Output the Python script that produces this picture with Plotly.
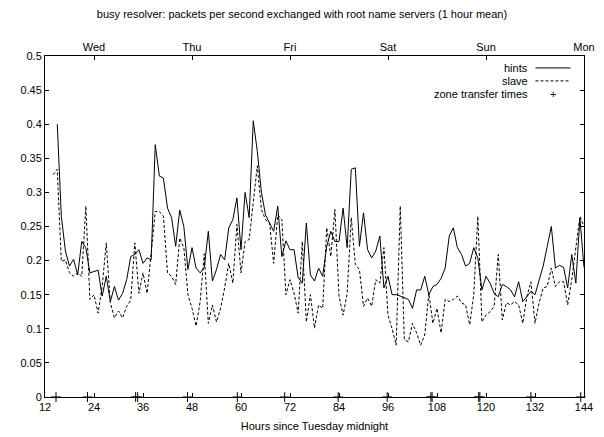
import plotly.graph_objects as go

hours = list(range(14, 145))

hints = [None, 0.400, 0.265, 0.214, 0.192, 0.202, 0.179, 0.228, 0.219, 0.182,
         0.184, 0.186, 0.148, 0.177, 0.140, 0.162, 0.142, 0.152, 0.172, 0.206,
         0.209, 0.216, 0.196, 0.204, 0.201, 0.370, 0.324, 0.321, 0.277, 0.263,
         0.221, 0.274, 0.250, 0.187, 0.219, 0.189, 0.182, 0.190, 0.243, 0.170,
         0.187, 0.209, 0.201, 0.248, 0.260, 0.292, 0.216, 0.300, 0.263, 0.405,
         0.360, 0.300, 0.267, 0.255, 0.243, 0.280, 0.206, 0.229, 0.216, 0.216,
         0.175, 0.167, 0.255, 0.179, 0.170, 0.189, 0.177, 0.221, 0.243, 0.228,
         0.228, 0.277, 0.219, 0.334, 0.336, 0.221, 0.270, 0.216, 0.204, 0.214,
         0.236, 0.160, 0.177, 0.150, 0.150, 0.148, 0.145, 0.143, 0.130, 0.157,
         0.157, 0.177, 0.150, 0.162, 0.165, 0.174, 0.189, 0.236, 0.248, 0.219,
         0.209, 0.192, 0.196, 0.219, 0.204, 0.157, 0.177, 0.167, 0.152, 0.147,
         0.165, 0.162, 0.157, 0.147, 0.169, 0.140, 0.147, 0.155, 0.150, 0.170,
         0.192, 0.221, 0.250, 0.189, 0.193, 0.190, 0.160, 0.209, 0.167, 0.262,
         0.190]

slave = [0.326, 0.334, 0.199, 0.201, 0.182, 0.177, 0.182, 0.177, 0.280, 0.143,
         0.150, 0.123, 0.162, 0.226, 0.138, 0.116, 0.126, 0.116, 0.133, 0.142,
         0.226, 0.152, 0.182, 0.152, 0.211, 0.272, 0.272, 0.265, 0.182, 0.177,
         0.165, 0.233, 0.219, 0.150, 0.130, 0.104, 0.140, 0.210, 0.108, 0.135,
         0.110, 0.130, 0.160, 0.196, 0.167, 0.253, 0.182, 0.228, 0.231, 0.290,
         0.339, 0.275, 0.260, 0.255, 0.196, 0.267, 0.260, 0.150, 0.172, 0.152,
         0.123, 0.228, 0.110, 0.150, 0.101, 0.135, 0.130, 0.248, 0.206, 0.275,
         0.148, 0.120, 0.152, 0.263, 0.194, 0.187, 0.133, 0.145, 0.133, 0.172,
         0.167, 0.219, 0.120, 0.100, 0.076, 0.280, 0.084, 0.081, 0.108, 0.094,
         0.076, 0.091, 0.152, 0.108, 0.130, 0.094, 0.143, 0.140, 0.143, 0.148,
         0.138, 0.135, 0.106, 0.150, 0.265, 0.110, 0.120, 0.125, 0.133, 0.209,
         0.113, 0.138, 0.135, 0.140, 0.135, 0.108, 0.147, 0.169, 0.108, 0.138,
         0.160, 0.162, 0.189, 0.162, 0.169, 0.169, 0.135, 0.172, 0.221, 0.265,
         0.250]

zone_transfer_hours = [14.7, 22.4, 34.2, 34.7, 46.9, 59.1, 70.7, 83.8, 95.8,
                       106.5, 106.8, 118.2, 118.5, 131.0, 143.2]
zone_transfer_vals = [0.0] * len(zone_transfer_hours)

x_ticks = list(range(12, 145, 12))
day_ticks = [24, 48, 72, 96, 120, 144]
day_labels = ["Wed", "Thu", "Fri", "Sat", "Sun", "Mon"]
y_ticks = [round(0.05 * i, 2) for i in range(11)]
y_labels = ["0", "0.05", "0.1", "0.15", "0.2", "0.25", "0.3", "0.35", "0.4", "0.45", "0.5"]

FONT = "Liberation Sans, Arial, sans-serif"

fig = go.Figure()
fig.add_trace(go.Scatter(x=hours, y=hints, mode="lines", name="hints",
                         line=dict(color="black", width=1), connectgaps=False))
fig.add_trace(go.Scatter(x=hours, y=slave, mode="lines", name="slave",
                         line=dict(color="black", width=1, dash="3px,2px")))
fig.add_trace(go.Scatter(x=zone_transfer_hours, y=zone_transfer_vals, mode="markers",
                         name="zone transfer times", cliponaxis=False,
                         marker=dict(symbol="cross-thin", size=7,
                                     line=dict(color="black", width=1))))
# invisible trace to activate top axis
fig.add_trace(go.Scatter(x=[12, 144], y=[None, None], xaxis="x2", showlegend=False,
                         hoverinfo="skip"))

fig.update_layout(
    width=604, height=437,
    margin=dict(l=45, r=20, t=56, b=40),
    paper_bgcolor="white", plot_bgcolor="white",
    showlegend=False,
    font=dict(family=FONT, size=11, color="black"),
    title=dict(text="busy resolver: packets per second exchanged with root name servers (1 hour mean)",
               x=0.5, xanchor="center", y=0.967, yanchor="middle",
               font=dict(size=11, family=FONT)),
    xaxis=dict(range=[12, 144], tickvals=x_ticks, ticks="inside", ticklen=4,
               showgrid=False, zeroline=False, showline=True, linecolor="black",
               linewidth=1, tickcolor="black", automargin=False,
               title=dict(text="Hours since Tuesday midnight", standoff=10,
                          font=dict(size=11))),
    xaxis2=dict(range=[12, 144], overlaying="x", side="top", tickvals=day_ticks,
                ticktext=day_labels, ticks="inside", ticklen=4, showgrid=False,
                zeroline=False, showline=True, linecolor="black", linewidth=1,
                tickcolor="black", automargin=False),
    yaxis=dict(range=[0, 0.5], tickvals=y_ticks, ticktext=y_labels, ticks="inside",
               ticklen=4, showgrid=False, zeroline=False, showline=True,
               linecolor="black", linewidth=1, tickcolor="black", mirror="ticks",
               automargin=False),
)

# legend (text right-aligned, sample to the right, gnuplot style)
legend_items = [("hints", "solid"), ("slave", "3px,2px"), ("zone transfer times", None)]
leg_y0 = 0.965
leg_dy = 0.038
for i, (label, dash) in enumerate(legend_items):
    yy = leg_y0 - i * leg_dy
    fig.add_annotation(xref="paper", yref="paper", x=0.899, y=yy, text=label,
                       showarrow=False, xanchor="right", yanchor="middle",
                       font=dict(size=11, family=FONT))
    if dash is not None:
        fig.add_shape(type="line", xref="paper", yref="paper", x0=0.91, x1=0.975,
                      y0=yy, y1=yy, line=dict(color="black", width=1, dash=dash))
    else:
        fig.add_annotation(xref="paper", yref="paper", x=0.943, y=yy, text="+",
                           showarrow=False, xanchor="center", yanchor="middle",
                           font=dict(size=11, family=FONT))

fig.write_html("out.html")
